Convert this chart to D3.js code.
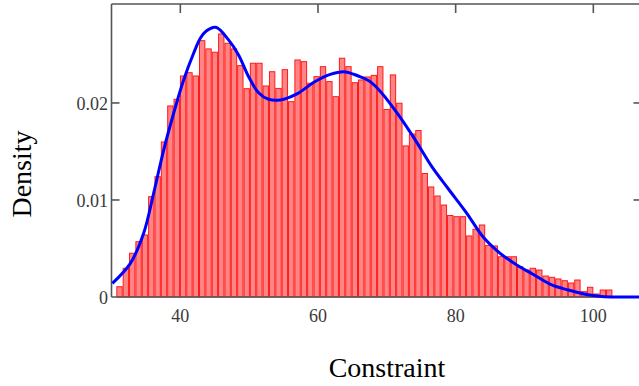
<!DOCTYPE html>
<html>
<head>
<meta charset="utf-8">
<script src="https://cdn.jsdelivr.net/npm/d3@7/dist/d3.min.js"></script>
<style>
  html, body { margin: 0; padding: 0; background: #fff; }
  svg { display: block; }
</style>
</head>
<body>
<div id="densityChart"></div>
<script>
// Histogram bins (density per bin)
const binStart = 30.7;
const binWidth = 0.924;
const densities = [
  0.00106, 0.00296, 0.00451, 0.0057, 0.00639, 0.01034, 0.0124, 0.01598, 0.01969, 0.02038,
  0.02278, 0.02312, 0.02278, 0.02642, 0.02557, 0.02523, 0.02711, 0.02615, 0.02557, 0.02385,
  0.02147, 0.02409, 0.02409, 0.02175, 0.02322, 0.0215, 0.02343, 0.02013, 0.02443, 0.02426,
  0.02203, 0.02271, 0.02374, 0.0222, 0.02065, 0.02461, 0.02374, 0.02209, 0.02237, 0.02268,
  0.02284, 0.02374, 0.01933, 0.02289, 0.01997, 0.01557, 0.0168, 0.01716, 0.01273, 0.01134,
  0.01041, 0.00948, 0.0084, 0.00828, 0.00828, 0.00629, 0.00698, 0.00742, 0.00531, 0.00526,
  0.00415, 0.00415, 0.00415, 0.00312, 0.00278, 0.00296, 0.00278, 0.00216, 0.00203, 0.00186,
  0.00168, 0.00144, 0.00175, 0.00055, 0.001, 0.00031, 0.00072, 0.00072
];

// Smoothed density curve (x, density)
const curveX = [30.13, 32.74, 34.67, 36.12, 37.58, 39.03, 40.48, 41.93, 42.9, 43.77,
  45.15, 47.01, 48.46, 49.92, 51.37, 52.82, 54.52, 56.94, 59.35, 61.78,
  63.95, 65.84, 67.58, 69.28, 71.69, 74.12, 76.54, 78.95, 81.62, 84.03,
  86.46, 88.88, 91.29, 93.96, 96.37, 98.8, 101.22, 103.88, 107];
const curveY = [0.00141, 0.00347, 0.00657, 0.01069, 0.01515, 0.01894, 0.02237, 0.02512, 0.02667, 0.02742,
  0.0278, 0.0265, 0.02495, 0.02271, 0.02106, 0.02038, 0.02031, 0.02093, 0.02211, 0.02294,
  0.0232, 0.02278, 0.0222, 0.021, 0.01876, 0.01619, 0.01343, 0.01113, 0.00863, 0.00615,
  0.0045, 0.0033, 0.00232, 0.00124, 0.00072, 0.00028, 0.00005, 0, 0];

const xTicks = [40, 60, 80, 100];
const yTicks = [0, 0.01, 0.02];
const yTickLabels = ['0', '0.01', '0.02'];

const width = 639;
const height = 386;
const plotLeft = 111.5, plotRight = 641.5, plotTop = 4, plotBottom = 297;

const svg = d3.select('#densityChart')
  .append('svg')
  .attr('width', width)
  .attr('height', height);

const x = d3.scaleLinear().domain([30, 107]).range([plotLeft, plotRight]);
const y = d3.scaleLinear().domain([0, 0.0302]).range([plotBottom, plotTop]);

// Bars
const bins = densities.map((d, i) => ({ x0: binStart + i * binWidth, x1: binStart + (i + 1) * binWidth, v: d }));

svg.append('g')
  .selectAll('rect')
  .data(bins)
  .enter()
  .append('rect')
  .attr('x', d => x(d.x0) + 0.5)
  .attr('y', d => y(d.v))
  .attr('width', d => x(d.x1) - x(d.x0) - 1)
  .attr('height', d => y(0) - y(d.v))
  .attr('fill', '#ff8585')
  .attr('stroke', '#ff1a1a')
  .attr('stroke-width', 1);

// Frame
const frame = svg.append('g').attr('stroke', '#555').attr('stroke-width', 1.6).attr('fill', 'none');
frame.append('line').attr('x1', plotLeft).attr('x2', plotLeft).attr('y1', plotTop).attr('y2', plotBottom);
frame.append('line').attr('x1', plotLeft).attr('x2', plotRight).attr('y1', plotTop).attr('y2', plotTop);
frame.append('line').attr('x1', plotLeft).attr('x2', plotRight).attr('y1', plotBottom).attr('y2', plotBottom);
frame.append('line').attr('x1', plotRight).attr('x2', plotRight).attr('y1', plotTop).attr('y2', plotBottom);

// Inward ticks
xTicks.forEach(t => {
  frame.append('line').attr('x1', x(t)).attr('x2', x(t)).attr('y1', plotTop).attr('y2', plotTop + 9);
});
yTicks.slice(1).forEach(t => {
  frame.append('line').attr('x1', plotLeft).attr('x2', plotLeft + 8).attr('y1', y(t)).attr('y2', y(t));
  frame.append('line').attr('x1', plotRight - 8).attr('x2', plotRight).attr('y1', y(t)).attr('y2', y(t));
});

// Density curve
const line = d3.line()
  .x((d, i) => x(curveX[i]))
  .y(d => y(d))
  .curve(d3.curveCatmullRom);

svg.append('path')
  .datum(curveY)
  .attr('d', line)
  .attr('fill', 'none')
  .attr('stroke', '#0000ff')
  .attr('stroke-width', 3);

// Tick labels
const font = '"Liberation Serif", "Times New Roman", serif';

svg.append('g')
  .selectAll('text')
  .data(xTicks)
  .enter()
  .append('text')
  .attr('x', d => x(d))
  .attr('y', 322)
  .attr('text-anchor', 'middle')
  .attr('font-family', font)
  .attr('font-size', '18px')
  .attr('fill', '#3a3a3a')
  .text(d => d);

svg.append('g')
  .selectAll('text')
  .data(yTicks)
  .enter()
  .append('text')
  .attr('x', 108)
  .attr('y', d => y(d) + 7)
  .attr('text-anchor', 'end')
  .attr('font-family', font)
  .attr('font-size', '18px')
  .attr('fill', '#3a3a3a')
  .text((d, i) => yTickLabels[i]);

// Axis titles
svg.append('text')
  .attr('x', 387)
  .attr('y', 377)
  .attr('text-anchor', 'middle')
  .attr('font-family', font)
  .attr('font-size', '28px')
  .attr('fill', '#000')
  .text('Constraint');

svg.append('text')
  .attr('transform', 'translate(31,174) rotate(-90)')
  .attr('text-anchor', 'middle')
  .attr('font-family', font)
  .attr('font-size', '28px')
  .attr('fill', '#000')
  .text('Density');
</script>
</body>
</html>
